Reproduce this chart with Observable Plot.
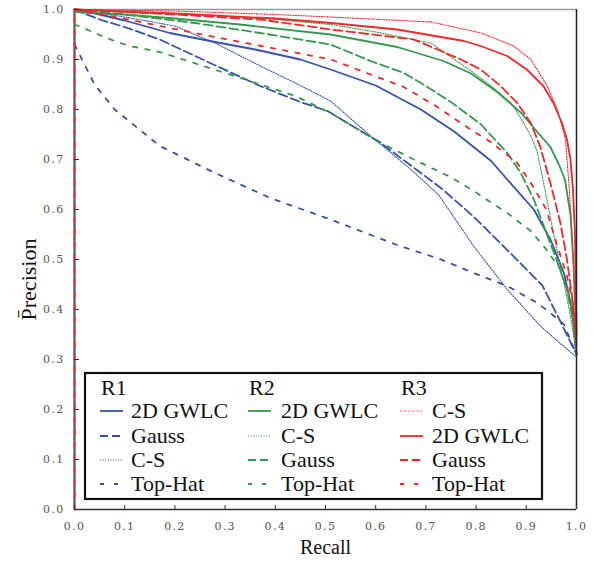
<!DOCTYPE html>
<html><head><meta charset="utf-8">
<script src="https://cdn.jsdelivr.net/npm/d3@7"></script>
<script src="https://cdn.jsdelivr.net/npm/@observablehq/plot@0.6"></script>
<style>
body{margin:0;background:#fff;}
#chart{width:597px;height:563px;}
</style></head><body><div id="chart"></div>
<script>
const xTicks = [0, 0.1, 0.2, 0.3, 0.4, 0.5, 0.6, 0.7, 0.8, 0.9, 1.0];
const yTicks = [0, 0.1, 0.2, 0.3, 0.4, 0.5, 0.6, 0.7, 0.8, 0.9, 1.0];
const groups = ["R1", "R2", "R3"];

// R1
const r1GwlcR = [0, 0.05, 0.1, 0.19, 0.28, 0.36, 0.45, 0.51, 0.6, 0.69, 0.755, 0.795, 0.83, 0.862, 0.915, 0.948, 0.975, 0.991, 1.0];
const r1GwlcP = [1.0, 0.99, 0.978, 0.953, 0.935, 0.92, 0.9, 0.88, 0.848, 0.8, 0.757, 0.725, 0.697, 0.66, 0.6, 0.54, 0.473, 0.4, 0.31];
const r1GaussR = [0, 0.05, 0.1, 0.17, 0.27, 0.37, 0.45, 0.504, 0.61, 0.73, 0.797, 0.865, 0.932, 0.966, 1.0];
const r1GaussP = [1.0, 0.98, 0.965, 0.94, 0.893, 0.847, 0.815, 0.797, 0.733, 0.643, 0.584, 0.516, 0.448, 0.38, 0.31];
const r1CsR = [0, 0.1, 0.2, 0.28, 0.37, 0.44, 0.51, 0.59, 0.67, 0.725, 0.795, 0.862, 0.928, 0.97, 1.0];
const r1CsP = [1.0, 0.985, 0.967, 0.933, 0.887, 0.853, 0.817, 0.747, 0.68, 0.63, 0.527, 0.44, 0.367, 0.33, 0.305];
const r1TopHatR = [0, 0.015, 0.04, 0.08, 0.17, 0.28, 0.39, 0.51, 0.64, 0.73, 0.795, 0.862, 0.922, 0.948, 0.975, 1.0];
const r1TopHatP = [0.93, 0.9, 0.85, 0.8, 0.727, 0.673, 0.623, 0.58, 0.53, 0.5, 0.473, 0.447, 0.413, 0.393, 0.37, 0.31];

// R2
const r2GwlcR = [0, 0.1, 0.2, 0.33, 0.51, 0.643, 0.735, 0.79, 0.842, 0.89, 0.922, 0.948, 0.965, 0.977, 0.988, 0.994, 1.0];
const r2GwlcP = [0.995, 0.99, 0.982, 0.97, 0.95, 0.925, 0.897, 0.872, 0.835, 0.793, 0.755, 0.725, 0.69, 0.66, 0.59, 0.49, 0.33];
const r2CsR = [0, 0.1, 0.25, 0.4, 0.51, 0.6, 0.71, 0.79, 0.83, 0.87, 0.895, 0.91, 0.922, 0.94, 0.958, 0.975, 0.988, 1.0];
const r2CsP = [1.0, 0.995, 0.99, 0.98, 0.97, 0.955, 0.933, 0.877, 0.847, 0.813, 0.773, 0.745, 0.715, 0.625, 0.533, 0.453, 0.387, 0.31];
const r2GaussR = [0, 0.1, 0.24, 0.37, 0.51, 0.59, 0.656, 0.69, 0.75, 0.81, 0.862, 0.889, 0.915, 0.94, 0.96, 0.981, 0.994, 1.0];
const r2GaussP = [1.0, 0.99, 0.973, 0.953, 0.93, 0.897, 0.873, 0.853, 0.815, 0.77, 0.713, 0.673, 0.62, 0.553, 0.5, 0.44, 0.373, 0.31];
const r2TopHatR = [0, 0.014, 0.04, 0.08, 0.11, 0.17, 0.3, 0.44, 0.51, 0.577, 0.63, 0.676, 0.749, 0.795, 0.862, 0.909, 0.94, 0.968, 0.988, 1.0];
const r2TopHatP = [0.97, 0.965, 0.953, 0.937, 0.927, 0.915, 0.873, 0.827, 0.793, 0.753, 0.723, 0.7, 0.665, 0.637, 0.593, 0.557, 0.52, 0.48, 0.42, 0.31];

// R3
const r3CsR = [0, 0.2, 0.4, 0.51, 0.71, 0.81, 0.875, 0.909, 0.942, 0.962, 0.978, 0.985, 0.991, 0.996, 1.0];
const r3CsP = [1.0, 0.997, 0.99, 0.985, 0.975, 0.953, 0.927, 0.9, 0.847, 0.8, 0.74, 0.65, 0.55, 0.45, 0.35];
const r3GwlcR = [0, 0.2, 0.4, 0.511, 0.643, 0.776, 0.809, 0.862, 0.901, 0.934, 0.954, 0.971, 0.981, 0.988, 0.993, 0.997, 1.0];
const r3GwlcP = [1.0, 0.992, 0.982, 0.973, 0.96, 0.937, 0.927, 0.907, 0.88, 0.847, 0.813, 0.773, 0.74, 0.7, 0.64, 0.55, 0.35];
const r3GaussR = [0, 0.1, 0.2, 0.37, 0.511, 0.676, 0.77, 0.809, 0.849, 0.882, 0.909, 0.928, 0.948, 0.968, 0.981, 0.991, 1.0];
const r3GaussP = [1.0, 0.995, 0.99, 0.98, 0.96, 0.94, 0.9, 0.88, 0.847, 0.813, 0.773, 0.725, 0.653, 0.573, 0.5, 0.427, 0.33];
const r3TopHatR = [0, 0, 0.107, 0.239, 0.372, 0.511, 0.59, 0.656, 0.723, 0.789, 0.822, 0.855, 0.882, 0.909, 0.94, 0.96, 0.981, 0.994, 1.0];
const r3TopHatP = [0, 1.0, 0.98, 0.953, 0.927, 0.9, 0.87, 0.845, 0.805, 0.76, 0.74, 0.715, 0.693, 0.653, 0.6, 0.533, 0.467, 0.407, 0.33];

// styles (not data)
const COLORS = {R1: "#3653a6", R2: "#36984e", R3: "#ea2a2c"};
const STYLES = {
  "2D GWLC": {dash: null, width: 1.8, legendDash: null},
  "Gauss": {dash: "9,4", width: 1.8, legendDash: "8,4"},
  "C-S": {dash: "1.1,1.5", width: 1.1, legendDash: "1.1,1.5"},
  "Top-Hat": {dash: "4.5,8", width: 1.8, legendDash: "4,10"}
};
const SERIF = "\"Liberation Serif\", \"Times New Roman\", Times, serif";
const TICKFONT = "\"DejaVu Serif\", serif";

const series = [
  {g: "R1", name: "2D GWLC", r: r1GwlcR, p: r1GwlcP},
  {g: "R1", name: "Gauss", r: r1GaussR, p: r1GaussP},
  {g: "R1", name: "C-S", r: r1CsR, p: r1CsP},
  {g: "R1", name: "Top-Hat", r: r1TopHatR, p: r1TopHatP},
  {g: "R2", name: "2D GWLC", r: r2GwlcR, p: r2GwlcP},
  {g: "R2", name: "C-S", r: r2CsR, p: r2CsP},
  {g: "R2", name: "Gauss", r: r2GaussR, p: r2GaussP},
  {g: "R2", name: "Top-Hat", r: r2TopHatR, p: r2TopHatP},
  {g: "R3", name: "C-S", r: r3CsR, p: r3CsP},
  {g: "R3", name: "2D GWLC", r: r3GwlcR, p: r3GwlcP},
  {g: "R3", name: "Gauss", r: r3GaussR, p: r3GaussP},
  {g: "R3", name: "Top-Hat", r: r3TopHatR, p: r3TopHatP}
];

const lineMarks = series.map(s => {
  const rows = s.r.map((x, i) => ({r: x, p: s.p[i]}));
  const st = STYLES[s.name];
  const opts = {x: "r", y: "p", stroke: COLORS[s.g], strokeWidth: st.width, strokeLinejoin: "round"};
  if (st.dash) opts.strokeDasharray = st.dash;
  return Plot.line(rows, opts);
});

const fmt = d3.format(".1f");
const plot = Plot.plot({
  width: 597,
  height: 563,
  marginLeft: 74,
  marginRight: 21,
  marginTop: 9,
  marginBottom: 54,
  style: {background: "#fff"},
  x: {domain: [0, 1]},
  y: {domain: [0, 1]},
  marks: [
    Plot.ruleY([1], {stroke: "#9a9a9a", strokeWidth: 1.5}),
    Plot.ruleX([0], {stroke: "#555", strokeWidth: 2.2}),
    ...lineMarks,
    Plot.ruleX([1], {stroke: "#222", strokeWidth: 1.5}),
    Plot.ruleY([0], {stroke: "#333", strokeWidth: 1.5}),
    Plot.axisX({ticks: xTicks, tickFormat: fmt, tickSize: -4, tickPadding: 17, label: null, fill: "#555", stroke: "#333", fontSize: 11, fontFamily: TICKFONT}),
    Plot.axisY({ticks: yTicks, tickFormat: fmt, tickSize: -5, tickPadding: 15, label: null, fill: "#555", stroke: "#333", fontSize: 11, fontFamily: TICKFONT}),
    Plot.text(["Recall"], {frameAnchor: "bottom", dy: 44, fontSize: 20, fontFamily: SERIF, fill: "#111", textAnchor: "middle"}),
    Plot.text(["P\u0304recision"], {frameAnchor: "left", dx: -46, dy: 20, rotate: -90, fontSize: 22, fontFamily: SERIF, fill: "#111", textAnchor: "middle"})
  ]
});
document.getElementById("chart").appendChild(plot);

const svg = d3.select(plot);
svg.selectAll("g[aria-label='x-axis tick label'] text, g[aria-label='y-axis tick label'] text")
  .style("font-family", TICKFONT).style("letter-spacing", "1.3px");

// Legend (drawn into the same SVG)
const lg = svg.append("g");
lg.append("rect").attr("x", 85).attr("y", 373).attr("width", 457).attr("height", 126)
  .attr("fill", "#fff").attr("stroke", "#111").attr("stroke-width", 2.2);
const colX = {R1: 100, R2: 248, R3: 400};
const textX = {R1: 131, R2: 281, R3: 432};
const rowBase = [418, 443, 467, 491];
const addText = (x, y, t) => lg.append("text").attr("x", x).attr("y", y).text(t)
  .style("font-family", SERIF).style("font-size", "22px").style("fill", "#111").style("text-anchor", "start");
groups.forEach(g => {
  addText(colX[g] + 1, 395, g);
  series.filter(s => s.g === g).forEach((s, i) => {
    const st = STYLES[s.name];
    const ly = rowBase[i] - 7;
    const ln = lg.append("line").attr("x1", colX[g]).attr("x2", colX[g] + 23)
      .attr("y1", ly).attr("y2", ly).attr("stroke", COLORS[g]).attr("stroke-width", st.width);
    if (st.legendDash) ln.attr("stroke-dasharray", st.legendDash);
    addText(textX[g], rowBase[i], s.name);
  });
});
</script></body></html>
